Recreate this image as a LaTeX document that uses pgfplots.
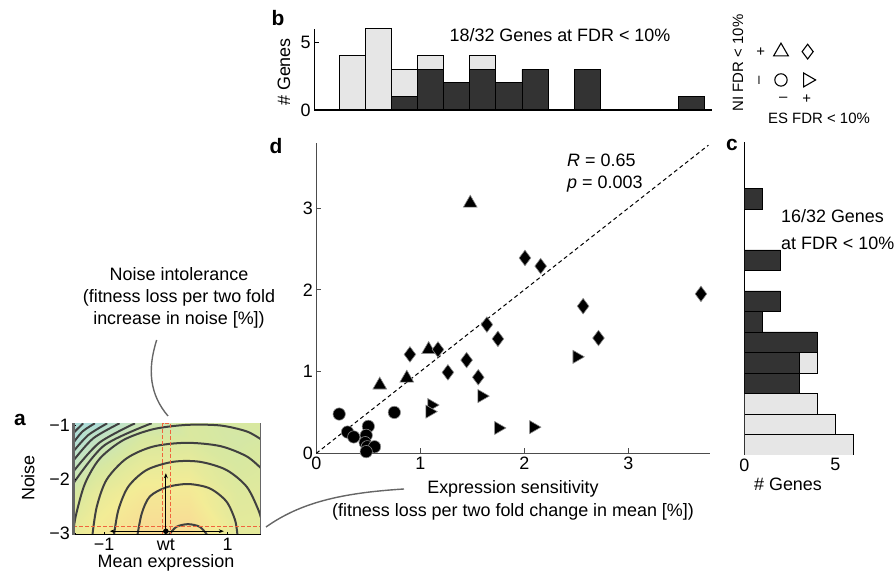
\documentclass[border=0pt]{standalone}
\usepackage{pgfplots}
\pgfplotsset{compat=1.18}
\usepackage{fontspec}
\setmainfont{Liberation Sans}
\usetikzlibrary{arrows.meta}

\definecolor{darkbar}{HTML}{333333}
\definecolor{lightbar}{HTML}{E6E6E6}
\definecolor{contour}{HTML}{404040}
\definecolor{boxred}{HTML}{F0643C}

\newcommand{\fs}{\fontsize{18}{22}\selectfont}
\newcommand{\fl}{\fontsize{15}{18}\selectfont}
\newcommand{\fb}{\fontsize{21}{24}\selectfont\bfseries}

\pgfplotsset{
  every axis/.append style={scale only axis, anchor=south west,
    /pgf/number format/assume math mode=true,
    tick label style={font=\fs}},
  colormap={fit}{rgb255=(150,212,236) rgb255=(190,226,200) rgb255=(216,232,160)
    rgb255=(243,236,150) rgb255=(249,216,148)},
}

\begin{document}
\begin{tikzpicture}[x=1bp, y=1bp, font=\fs]
\path[use as bounding box] (0,0) rectangle (896,575);

% ---- d: scatter
\begin{axis}[at={(316.3bp,121.7bp)}, width=393.7bp, height=310.6bp,
  xmin=0, xmax=3.785, ymin=0, ymax=3.8,
  axis lines=left, axis line style={-, black!70, line width=1.5bp},
  xtick={0,1,2,3}, ytick={0,1,2,3},
  tick align=inside, major tick length=5bp,
  tick style={black!70, line width=1bp},
  clip=false]
\addplot[black, line width=1bp, dash pattern=on 4bp off 3bp] coordinates {(0,0) (3.77,3.77)};
% NI -, ES -
\addplot[only marks, mark=*, mark size=6.2,
  mark options={fill=black, draw=black!45, line width=0.6bp}] coordinates {
  (0.22,0.48) (0.30,0.26) (0.36,0.20) (0.50,0.33) (0.48,0.22)
  (0.47,0.13) (0.49,0.08) (0.56,0.08) (0.48,0.02) (0.75,0.50)};
% NI +, ES -
\addplot[only marks, mark=triangle*, mark size=8,
  mark options={fill=black, draw=black!45, line width=0.6bp}] coordinates {
  (1.48,3.06) (0.61,0.835) (0.87,0.92) (1.08,1.27)};
% NI +, ES +
\addplot[only marks, mark=diamond*, mark size=7.8,
  mark options={fill=black, draw=black!45, line width=0.6bp}] coordinates {
  (0.90,1.21) (1.17,1.27) (1.265,0.99) (1.445,1.14) (1.557,0.93) (1.64,1.575)
  (1.746,1.40) (2.006,2.39) (2.157,2.29) (2.565,1.80) (2.713,1.41) (3.698,1.95)};
% NI -, ES +
\addplot[only marks, mark=triangle*, mark size=7.6,
  mark options={rotate=-90, fill=black, draw=black!45, line width=0.6bp}] coordinates {
  (1.108,0.59) (1.09,0.51) (1.59,0.70) (1.75,0.31) (2.087,0.32) (2.504,1.18)};
\end{axis}

% ---- b: histogram of expression sensitivity
\begin{axis}[at={(314.2bp,465bp)}, width=397.3bp, height=81.3bp,
  xmin=-0.02, xmax=3.80, ymin=0, ymax=6,
  axis x line=bottom, axis y line=left,
  x axis line style={-, black, line width=2.5bp},
  y axis line style={-, black, line width=0.8bp},
  xtick=\empty, ytick={0,5}, tick align=inside, major tick length=5bp,
  tick style={black, line width=0.8bp},
  ybar, bar shift=0pt, bar width=0.251, axis on top]
\addplot[fill=lightbar, draw=black, line width=0.8bp] coordinates {
  (0.3455,4) (0.5965,6) (0.8475,3) (1.0985,4) (1.6005,4)};
\addplot[fill=darkbar, draw=black, line width=0.8bp] coordinates {
  (0.8475,1) (1.0985,3) (1.3495,2) (1.6005,3) (1.8515,2) (2.1025,3) (2.6045,3) (3.6085,1)};
\end{axis}

% ---- c: histogram of noise intolerance
\begin{axis}[at={(744.3bp,120bp)}, width=145.6bp, height=313.3bp,
  xmin=0, xmax=8, ymin=-0.021, ymax=3.814,
  axis x line=bottom, axis y line=left,
  x axis line style={draw=none},
  y axis line style={-, black, line width=0.8bp},
  xtick={0,5}, ytick=\empty, tick align=inside, major tick length=4bp,
  tick style={black, line width=0.8bp},
  xbar, bar shift=0pt, bar width=0.251]
\addplot[fill=lightbar, draw=black, line width=0.8bp] coordinates {
  (6,0.1045) (5,0.3555) (4,0.6065) (4,1.1085)};
\addplot[fill=darkbar, draw=black, line width=0.8bp] coordinates {
  (3,0.8575) (3,1.1085) (4,1.3595) (1,1.6105) (2,1.8615) (2,2.3635) (1,3.1165)};
\end{axis}

% ---- legend of marker shapes
\begin{axis}[at={(754.3bp,466.7bp)}, width=80bp, height=85bp,
  xmin=0, xmax=3, ymin=0, ymax=3, hide axis, clip=false]
\addplot[only marks, mark=triangle*, mark size=8.5,
  mark options={fill=white, draw=black, line width=1.1bp}] coordinates {(1,2)};
\addplot[only marks, mark=diamond*, mark size=7.4,
  mark options={fill=white, draw=black, line width=1.1bp}] coordinates {(2,2)};
\addplot[only marks, mark=*, mark size=6.2,
  mark options={fill=white, draw=black, line width=1.1bp}] coordinates {(1,1)};
\addplot[only marks, mark=triangle*, mark size=8,
  mark options={rotate=-90, fill=white, draw=black, line width=1.1bp}] coordinates {(2,1)};
\end{axis}

% ---- a: fitness landscape
\begin{axis}[at={(73.3bp,40bp)}, width=187.6bp, height=111.7bp,
  xmin=-1.5, xmax=1.54, ymin=-3.03, ymax=-0.97,
  axis x line=bottom, axis y line=left,
  x axis line style={-, black, line width=1bp},
  y axis line style={-, black!60, line width=2.5bp},
  xtick={-1,0,1}, xticklabels={−1,wt,1},
  ytick={-3,-2,-1}, yticklabels={−3,−2,−1},
  tick align=inside, major tick length=3bp, tick style={black, line width=0.8bp},
  axis on top, point meta min=0, point meta max=1, colormap name=fit]
\addplot[matrix plot*, shader=interp, mesh/cols=5, point meta=explicit] table[meta=c] {
x y c
-1.5 -3.03 0.55
-0.75 -3.03 0.80
0 -3.03 0.97
0.75 -3.03 0.98
1.54 -3.03 0.62
-1.5 -2.5 0.48
-0.75 -2.5 0.74
0 -2.5 0.92
0.75 -2.5 0.93
1.54 -2.5 0.60
-1.5 -2.0 0.34
-0.75 -2.0 0.63
0 -2.0 0.80
0.75 -2.0 0.80
1.54 -2.0 0.56
-1.5 -1.5 0.14
-0.75 -1.5 0.46
0 -1.5 0.65
0.75 -1.5 0.66
1.54 -1.5 0.50
-1.5 -0.97 0.00
-0.75 -0.97 0.28
0 -0.97 0.50
0.75 -0.97 0.52
1.54 -0.97 0.46
};
\addplot[contour, line width=2bp, smooth] coordinates {(0.05,-3.03) (0.17,-2.88) (0.36,-2.83) (0.55,-2.88) (0.67,-3.03)};
\addplot[contour, line width=2bp, smooth] coordinates {(-0.46,-3.03) (-0.39,-2.63) (-0.26,-2.32) (0.01,-2.15) (0.36,-2.09) (0.71,-2.17) (0.98,-2.41) (1.12,-2.75) (1.16,-3.03)};
\addplot[contour, line width=2bp, smooth] coordinates {(-0.84,-3.03) (-0.77,-2.57) (-0.61,-2.14) (-0.31,-1.83) (0.12,-1.68) (0.55,-1.68) (0.98,-1.83) (1.31,-2.14) (1.50,-2.57) (1.56,-2.80)};
\addplot[contour, line width=2bp, smooth] coordinates {(-1.19,-3.03) (-1.12,-2.51) (-0.96,-2.01) (-0.64,-1.62) (-0.21,-1.40) (0.33,-1.33) (0.88,-1.39) (1.31,-1.58) (1.56,-1.82)};
\addplot[contour, line width=2bp, smooth] coordinates {(-1.50,-2.95) (-1.45,-2.63) (-1.31,-2.08) (-1.07,-1.62) (-0.69,-1.28) (-0.21,-1.08) (0.33,-1.00) (0.88,-1.01) (1.31,-1.12) (1.56,-1.28)};
\addplot[contour, line width=2bp, smooth] coordinates {(-1.5,-2.08) (-1.0,-1.38) (-0.23,-0.97)};
\addplot[contour, line width=2bp, smooth] coordinates {(-1.5,-1.86) (-1.08,-1.33) (-0.50,-0.97)};
\addplot[contour, line width=2bp, smooth] coordinates {(-1.5,-1.66) (-1.18,-1.25) (-0.75,-0.97)};
\addplot[contour, line width=2bp, smooth] coordinates {(-1.5,-1.49) (-1.26,-1.19) (-0.95,-0.97)};
\addplot[contour, line width=2bp, smooth] coordinates {(-1.5,-1.33) (-1.35,-1.12) (-1.15,-0.97)};
\addplot[contour, line width=2bp] coordinates {(-1.5,-1.15) (-1.34,-0.97)};
% perturbation boxes and arrows
\addplot[boxred, line width=1.2bp, dash pattern=on 4bp off 2bp] coordinates {(-0.054,-3.03) (-0.054,-0.97) (0.076,-0.97) (0.076,-3.03) (-0.054,-3.03)};
\addplot[boxred, line width=1.2bp, dash pattern=on 4bp off 2bp] coordinates {(-1.5,-2.88) (1.54,-2.88) (1.54,-3.03) (-1.5,-3.03) (-1.5,-2.88)};
\addplot[black, line width=1bp, -{Stealth[length=5bp]}] coordinates {(0,-2.96) (0,-1.89)};
\addplot[black, line width=1bp, -{Stealth[length=5bp]}] coordinates {(0,-2.96) (-0.91,-2.96)};
\addplot[black, line width=1bp, -{Stealth[length=5bp]}] coordinates {(0,-2.96) (0.94,-2.96)};
\addplot[only marks, mark=*, mark size=2.5, black] coordinates {(0,-2.96)};
\draw[black!60, line width=1.5bp] (axis cs:1.54,-3.03) -- (axis cs:1.54,-0.97);
\end{axis}

% ---- connectors
\draw[black!60, line width=1.4bp] (156.7,235) .. controls (147,205) and (150,180) .. (168,159);
\draw[black!60, line width=1.4bp] (266,48) .. controls (300,72) and (340,82) .. (404,86);

% ---- texts
\node[align=center, font=\fs, inner sep=0pt] at (179,277) {Noise intolerance\\(fitness loss per two fold\\increase in noise [\%])};
\node[align=center, font=\fs, inner sep=0pt] at (513,75) {Expression sensitivity\\[1bp](fitness loss per two fold change in mean [\%])};
\node[rotate=90] at (284,503) {\# Genes};
\node at (560,540) {18/32 Genes at FDR < 10\%};
\node[anchor=west, inner sep=0pt] at (567,415) {\textit{R} = 0.65};
\node[anchor=west, inner sep=0pt] at (567,391) {\textit{p} = 0.003};
\node[anchor=west, inner sep=0pt] at (781,359) {16/32 Genes};
\node[anchor=west, inner sep=0pt] at (781,332) {at FDR < 10\%};
\node at (788,91) {\# Genes};
\node at (28,97) [rotate=90] {Noise};
\node at (166,12) {Mean expression};
% legend labels
\node[font=\fl] at (760.7,523.3) {+};
\node[font=\fl, rotate=90] at (760.7,495) {–};
\node[font=\fl] at (783.3,475.7) {–};
\node[font=\fl] at (806.7,475.7) {+};
\node[font=\fl, rotate=90] at (738,512) {NI FDR < 10\%};
\node[font=\fl] at (819,456.7) {ES FDR < 10\%};
% panel letters
\node[font=\fb] at (20,155) {a};
\node[font=\fb] at (278,557) {b};
\node[font=\fb] at (732,430) {c};
\node[font=\fb] at (276,429) {d};
\end{tikzpicture}
\end{document}
